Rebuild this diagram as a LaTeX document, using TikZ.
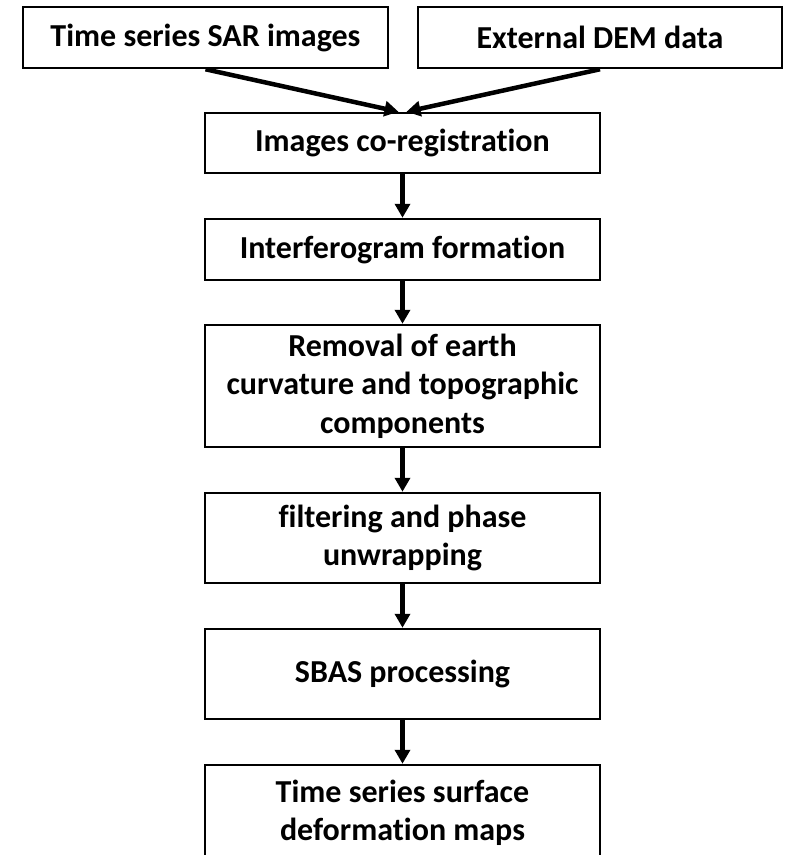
\documentclass[tikz,border=0pt]{standalone}
\usepackage{fontspec}
\setmainfont{Carlito}[Ligatures=NoCommon]
\usetikzlibrary{arrows.meta}
\begin{document}
\begin{tikzpicture}[x=1pt,y=-1pt,
  box/.style={draw=black, line width=2.5pt, rectangle, inner sep=0pt, align=center,
    font=\fontsize{32}{38.5}\selectfont\bfseries},
  flow/.style={line width=4.5pt, -{Triangle[length=14pt,width=15pt]}}]
\useasboundingbox (0,0) rectangle (790,855);
\node[box, minimum width=365pt, minimum height=61pt] (sar) at (205.5,37.5) {Time series SAR images};
\node[box, minimum width=364pt, minimum height=61pt] (dem) at (600,37.5) {External DEM data};
\node[box, minimum width=395pt, minimum height=60pt] (co) at (402.5,143) {Images co-registration};
\node[box, minimum width=395pt, minimum height=61pt] (ifg) at (402.5,249.5) {Interferogram formation};
\node[box, minimum width=395pt, minimum height=122pt] (rem) at (402.5,386) {Removal of earth\\curvature and topographic\\components};
\node[box, minimum width=395pt, minimum height=90pt] (fil) at (402.5,538) {filtering and phase\\unwrapping};
\node[box, minimum width=395pt, minimum height=90pt] (sbas) at (402.5,674) {SBAS processing};
\node[box, minimum width=395pt, minimum height=96pt] (ts) at (402.5,813) {Time series surface\\deformation maps};
\coordinate (inL) at ([xshift=-4pt]co.north);
\coordinate (inR) at ([xshift=4pt]co.north);
\draw[flow] (sar.south) -- (inL);
\draw[flow] (dem.south) -- (inR);
\draw[flow] (co) -- (ifg);
\draw[flow] (ifg) -- (rem);
\draw[flow] (rem) -- (fil);
\draw[flow] (fil) -- (sbas);
\draw[flow] (sbas) -- (ts);
\end{tikzpicture}
\end{document}
